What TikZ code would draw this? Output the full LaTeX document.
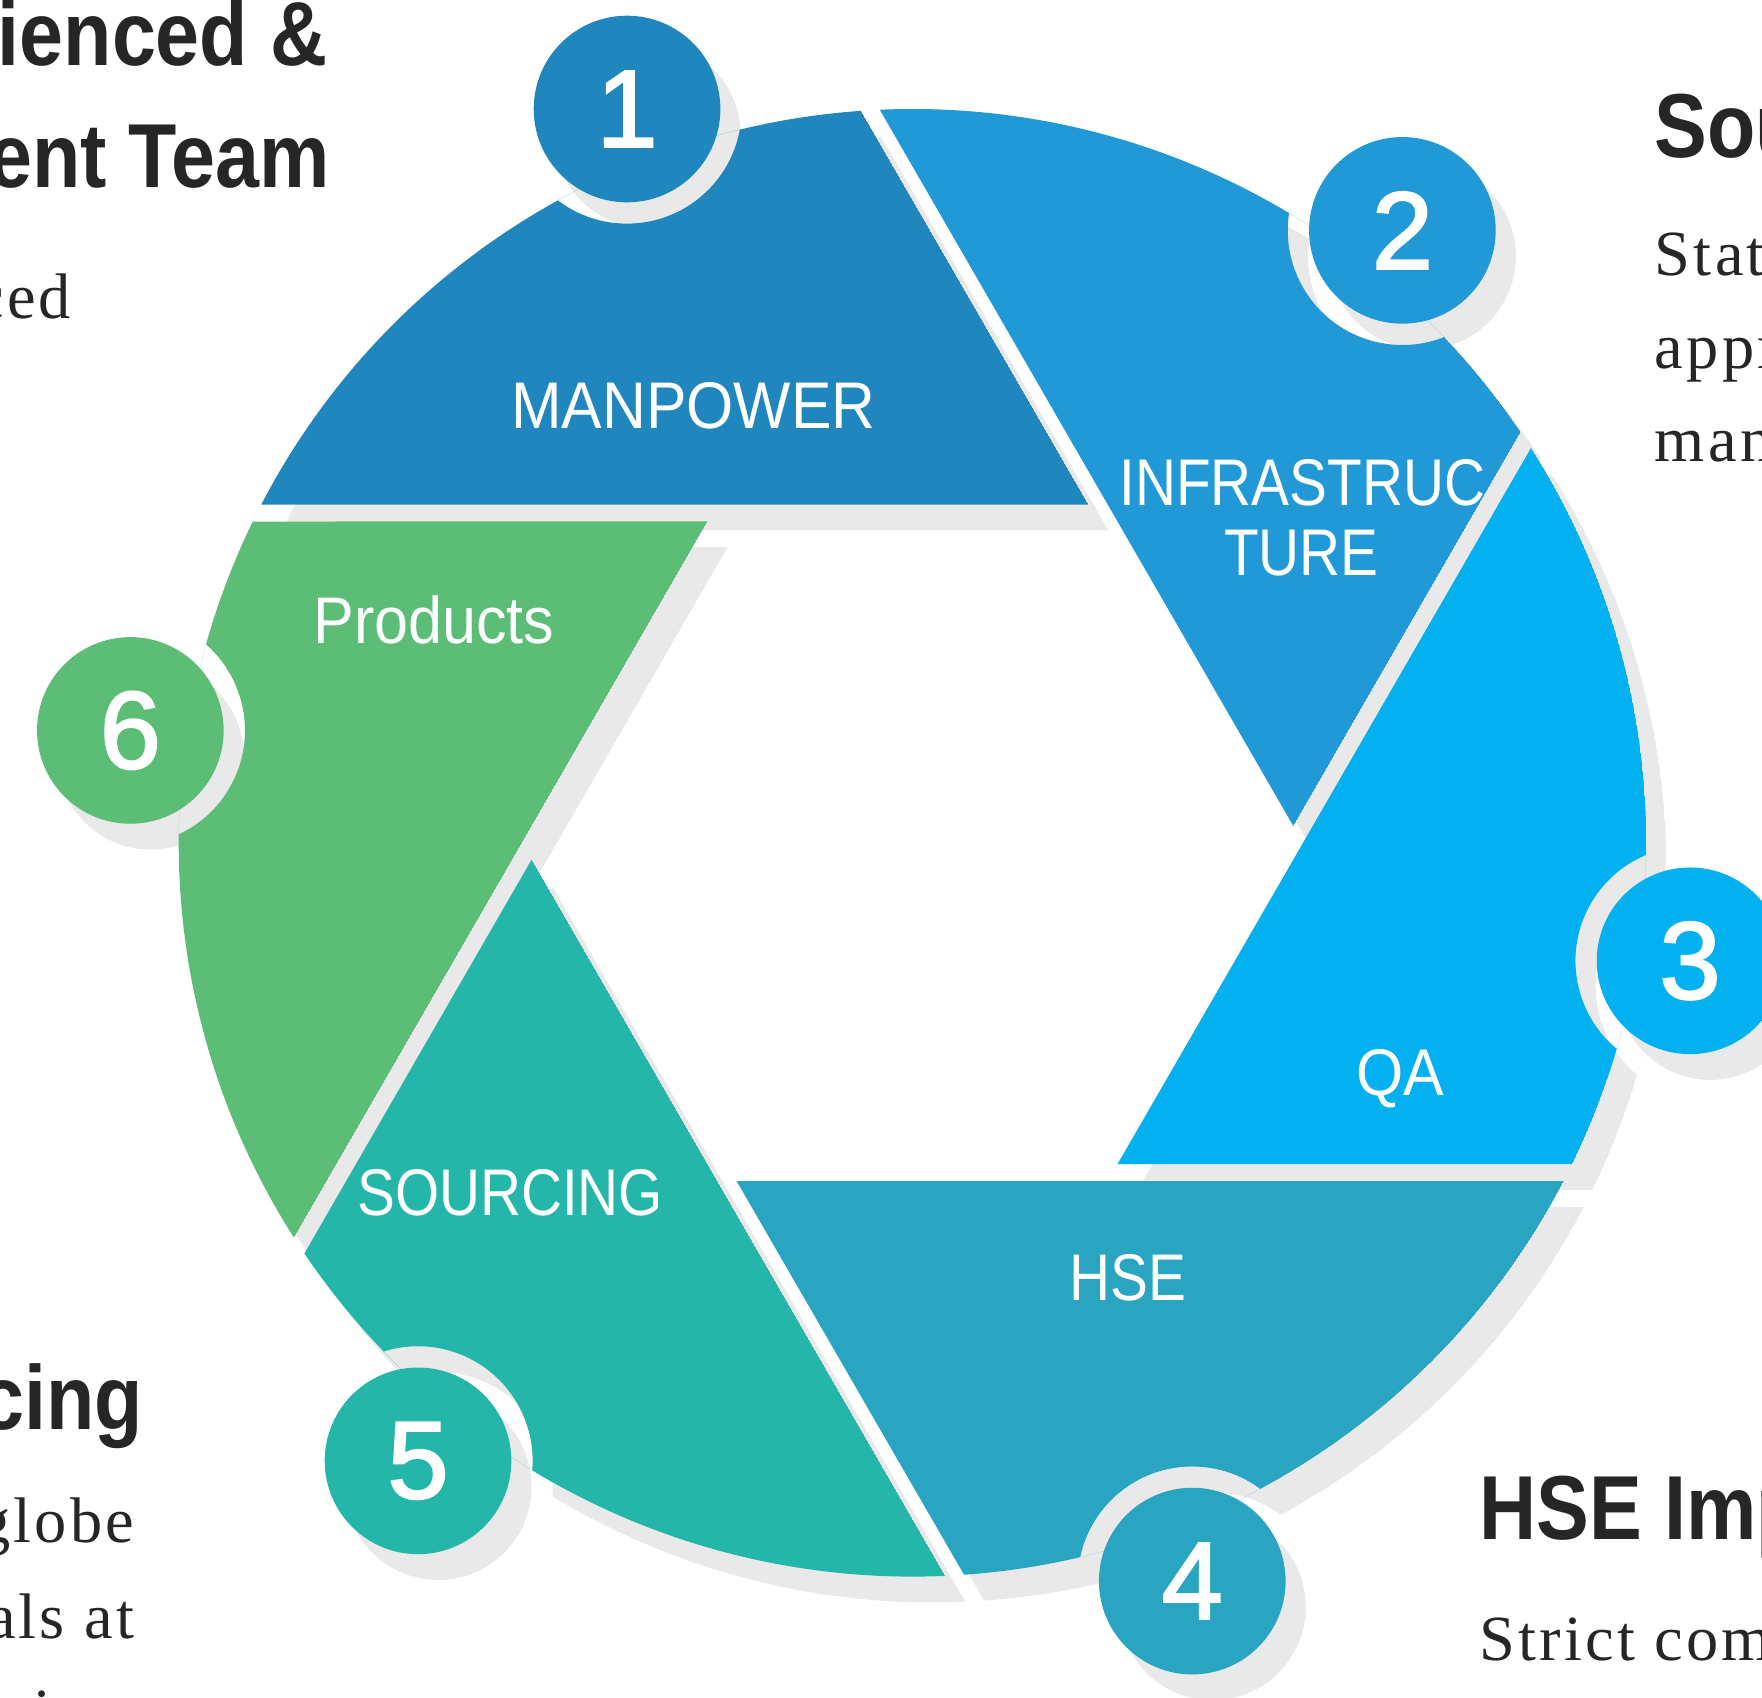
\documentclass[tikz,border=0pt]{standalone}
\usepackage{graphicx}
\usepackage{fontspec}
\setmainfont{Liberation Serif}
\newfontfamily\lab{Liberation Sans}
\newfontfamily\numf{Liberation Sans}[FakeBold=2]
\newfontfamily\hd{Liberation Sans}
\newfontfamily\bd{Liberation Serif}[LetterSpace=5]
\definecolor{c1}{HTML}{1F87BD}
\definecolor{c2}{HTML}{2199D7}
\definecolor{c3}{HTML}{04B1F0}
\definecolor{c4}{HTML}{29A5C2}
\definecolor{c5}{HTML}{25B6AA}
\definecolor{c6}{HTML}{5CBD77}
\definecolor{shad}{HTML}{E9E9E9}
\definecolor{ink}{HTML}{262626}
\newcommand\sx[2][0.86]{\scalebox{#1}[1]{#2}}
\newcommand\hx[1]{\scalebox{0.87}[1]{#1}}
\begin{document}
\begin{tikzpicture}[x=0.01cm,y=0.01cm,
  lbl/.style={text=white,font=\lab\fontsize{16.7}{18}\selectfont,inner sep=0pt},
  numc/.style={circle,minimum size=1.66cm,inner sep=0pt,text=white,font=\numf\fontsize{27.8}{30}\selectfont},
  head/.style={text=ink,font=\hd\bfseries\fontsize{23}{26}\selectfont,inner sep=0pt},
  body/.style={text=ink,font=\bd\fontsize{16.3}{18}\selectfont,inner sep=0pt}]
\useasboundingbox (0,0) rectangle (1568,-1511);
\clip (0,0) rectangle (1568,-1511);
\def\segpath{(156.5,301) -- (-579.5,301) arc[start angle=152.55,end angle=94.03,radius=653] -- cycle}
% centres of the number circles and of their shadows
\foreach \n/\px/\py in {1/558/97,2/1248/205,3/1504/855,4/1061/1407,5/372/1300,6/116/650} {
  \coordinate (h\n) at (\px,-\py);
  \coordinate (s\n) at (\px+18,-\py-23);
}
% shadows of segments
\foreach \k/\n in {0/1,1/2,2/3,3/4,4/5,5/6} {
  \begin{scope}[shift={(830,-773)},rotate=-60*\k]
    \clip \segpath;
    \fill[shad,even odd rule] \segpath (s\n) circle[radius=102];
  \end{scope}
}
% shadows of number circles
\foreach \n in {1,...,6}
  \fill[shad] (s\n) circle[radius=83];
% segments
\foreach \k/\col/\n in {0/c1/1,1/c2/2,2/c3/3,3/c4/4,4/c5/5,5/c6/6} {
  \begin{scope}[shift={(812,-750)},rotate=-60*\k]
    \clip \segpath;
    \fill[\col,even odd rule] \segpath (h\n) circle[radius=102];
  \end{scope}
}
% number circles
\foreach \col/\n in {c1/1,c2/2,c3/3,c4/4,c5/5,c6/6}
  \node[numc,fill=\col] (n\n) at (h\n) {\n};
% segment labels
\node[lbl,anchor=base] (l1) at (617,-381) {\sx[0.92]{MANPOWER}};
\node[lbl,anchor=base] (l2a) at (1159,-450) {\sx{INFRASTRUC}};
\node[lbl,anchor=base] (l2b) at (1158,-512) {\sx{TURE}};
\node[lbl,anchor=base] (l3) at (1246,-975) {\sx[0.92]{QA}};
\node[lbl,anchor=base] (l4) at (1004,-1157) {\sx{HSE}};
\node[lbl,anchor=base] (l5) at (454,-1082) {\sx{SOURCING}};
\node[lbl,anchor=base] (l6) at (386,-573) {\sx[0.925]{Products}};
% side texts
\node[head,anchor=base east] (t1a) at (292,-58) {\hx{ienced \&}};
\node[head,anchor=base east] (t1b) at (294,-167) {\hx{ent Team}};
\node[body,anchor=base east] (t1c) at (64,-283) {ced};
\node[head,anchor=base west] (t2a) at (1472,-140) {\hx{Sou}};
\node[body,anchor=base west] (t2b) at (1472,-245) {Stat};
\node[body,anchor=base west] (t2c) at (1472,-328) {appr};
\node[body,anchor=base west] (t2d) at (1472,-411) {man};
\node[head,anchor=base east] (t5a) at (128,-1272) {\hx{cing}};
\node[body,anchor=base east] (t5b) at (120,-1373) {globe};
\node[body,anchor=base east] (t5c) at (120,-1458) {als at};
\node[body,anchor=base] (t5d) at (38,-1543) {i};
\node[head,anchor=base west] (t4a) at (1316,-1370) {\hx{HSE Imp}};
\node[body,anchor=base west] (t4b) at (1316,-1478) {Strict com};
\end{tikzpicture}
\end{document}
